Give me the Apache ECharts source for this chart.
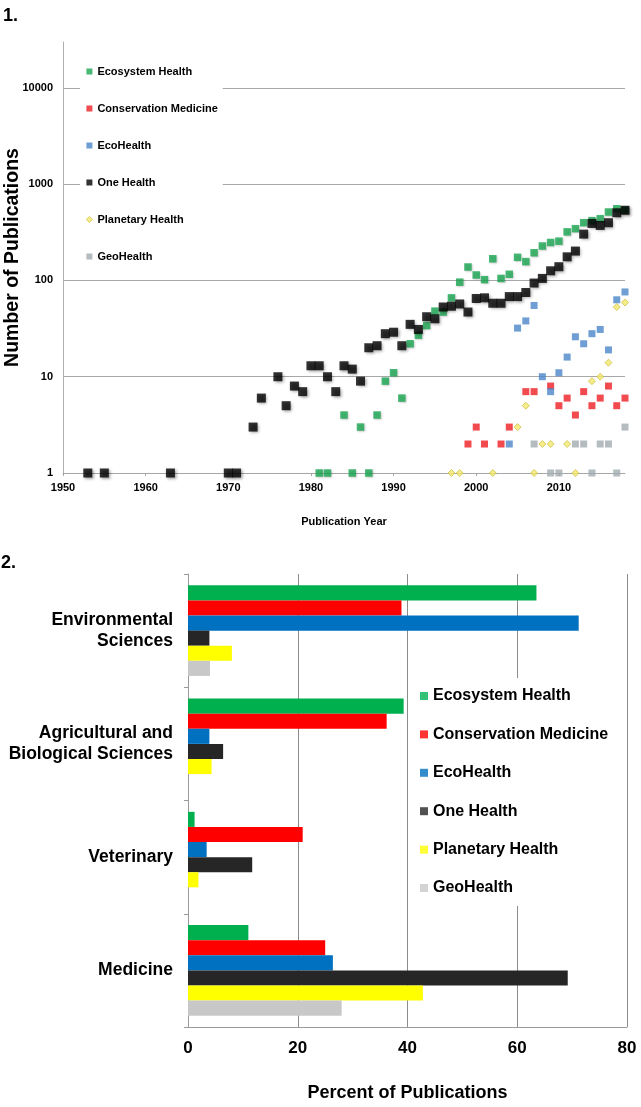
<!DOCTYPE html>
<html>
<head>
<meta charset="utf-8">
<title>Publications</title>
<script src="https://cdn.jsdelivr.net/npm/echarts@6/dist/echarts.min.js"></script>
<style>
  html, body { margin: 0; padding: 0; background: #fff; }
  #main { width: 641px; height: 1107px; }
</style>
</head>
<body>
<div id="main"></div>
<script>
// ---- panel 1: publications per year (log scale) ----
var seriesNames = ['Ecosystem Health', 'Conservation Medicine', 'EcoHealth', 'One Health', 'Planetary Health', 'GeoHealth'];

var ecosystemYears = [1981, 1982, 1984, 1985, 1986, 1987, 1988, 1989, 1990, 1991, 1992, 1993, 1994, 1995, 1996, 1997, 1998, 1999, 2000, 2001, 2002, 2003, 2004, 2005, 2006, 2007, 2008, 2009, 2010, 2011, 2012, 2013, 2014, 2015, 2016, 2017, 2018];
var ecosystemCounts = [1, 1, 4, 1, 3, 1, 4, 9, 11, 6, 22, 27, 34, 48, 47, 66, 96, 138, 114, 102, 168, 105, 116, 174, 157, 194, 228, 248, 256, 320, 345, 398, 418, 438, 514, 556, 540];

var consMedYears = [1999, 2000, 2001, 2003, 2004, 2006, 2007, 2009, 2010, 2011, 2012, 2013, 2014, 2015, 2016, 2017, 2018];
var consMedCounts = [2, 3, 2, 2, 3, 7, 7, 8, 5, 6, 4, 7, 5, 6, 8, 5, 6];

var ecoHealthYears = [2004, 2005, 2006, 2007, 2008, 2009, 2010, 2011, 2012, 2013, 2014, 2015, 2016, 2017, 2018];
var ecoHealthCounts = [2, 32, 38, 55, 10, 7, 11, 16, 26, 22, 28, 31, 19, 63, 76];

var oneHealthYears = [1953, 1955, 1963, 1970, 1971, 1973, 1974, 1976, 1977, 1978, 1979, 1980, 1981, 1982, 1983, 1984, 1985, 1986, 1987, 1988, 1989, 1990, 1991, 1992, 1993, 1994, 1995, 1996, 1997, 1998, 1999, 2000, 2001, 2002, 2003, 2004, 2005, 2006, 2007, 2008, 2009, 2010, 2011, 2012, 2013, 2014, 2015, 2016, 2017, 2018];
var oneHealthCounts = [1, 1, 1, 1, 1, 3, 6, 10, 5, 8, 7, 13, 13, 10, 7, 13, 12, 9, 20, 21, 28, 29, 21, 35, 31, 42, 40, 53, 54, 57, 47, 65, 66, 58, 58, 68, 68, 75, 94, 105, 126, 139, 176, 202, 303, 391, 373, 398, 505, 536];

var planetaryYears = [1997, 1998, 2002, 2005, 2006, 2007, 2008, 2009, 2011, 2012, 2014, 2015, 2016, 2017, 2018];
var planetaryCounts = [1, 1, 1, 3, 5, 1, 2, 2, 2, 1, 9, 10, 14, 53, 59];

var geoHealthYears = [2007, 2009, 2010, 2012, 2013, 2014, 2015, 2016, 2017, 2018];
var geoHealthCounts = [2, 1, 1, 2, 2, 1, 2, 2, 1, 3];

// ---- panel 2: percent of publications by subject area ----
var subjectAreas = ['Environmental\nSciences', 'Agricultural and\nBiological Sciences', 'Veterinary', 'Medicine'];
var ecosystemPct = [63.5, 39.3, 1.2, 11.0];
var consMedPct = [38.9, 36.2, 20.9, 25.0];
var ecoHealthPct = [71.2, 3.9, 3.4, 26.4];
var oneHealthPct = [3.9, 6.4, 11.7, 69.2];
var planetaryPct = [8.0, 4.3, 1.9, 42.8];
var geoHealthPct = [4.0, 0, 0, 28.0];

var FONT = 'Liberation Sans, Arial, sans-serif';

// colours
var dotColors = ['#1aa653', '#ee1d23', '#4a86c8', '#000000', '#f3e86b', '#a2abb0'];
var barColors = ['#00b04f', '#ff0000', '#0070c0', '#262626', '#ffff00', '#c8c8c8'];

function pairs(xs, ys) {
  return xs.map(function (x, i) { return [x, ys[i]]; });
}
// plain numbers, no thousands separator
function plain(v) { return String(v); }

var dotData = [
  pairs(ecosystemYears, ecosystemCounts),
  pairs(consMedYears, consMedCounts),
  pairs(ecoHealthYears, ecoHealthCounts),
  pairs(oneHealthYears, oneHealthCounts),
  pairs(planetaryYears, planetaryCounts),
  pairs(geoHealthYears, geoHealthCounts)
];
var barData = [ecosystemPct, consMedPct, ecoHealthPct, oneHealthPct, planetaryPct, geoHealthPct];

var series = [];

// scatter marks
seriesNames.forEach(function (name, i) {
  var style = { color: dotColors[i] };
  var size = 7;
  var symbol = 'rect';
  if (name === 'One Health') {
    size = 9;
    style.shadowColor = 'rgba(0,0,0,0.45)';
    style.shadowBlur = 3;
    style.shadowOffsetX = 1.5;
    style.shadowOffsetY = 1.5;
  } else if (name === 'Ecosystem Health') {
    size = 7.5;
    style.shadowColor = 'rgba(0,0,0,0.25)';
    style.shadowBlur = 2;
    style.shadowOffsetX = 1;
    style.shadowOffsetY = 1;
  } else if (name === 'Planetary Health') {
    symbol = 'diamond';
    style.borderColor = '#c7b32a';
    style.borderWidth = 0.8;
  }
  series.push({
    name: name,
    type: 'scatter',
    xAxisIndex: 0,
    yAxisIndex: 0,
    symbol: symbol,
    symbolSize: size,
    itemStyle: style,
    data: dotData[i]
  });
});

// bars
seriesNames.forEach(function (name, i) {
  series.push({
    name: name,
    type: 'bar',
    xAxisIndex: 1,
    yAxisIndex: 1,
    barGap: '0%',
    barCategoryGap: '20%',
    itemStyle: { color: barColors[i] },
    data: barData[i]
  });
});

var topLegendData = seriesNames.map(function (name, i) {
  var item = { name: name, icon: 'rect', itemStyle: { color: dotColors[i], borderWidth: 0 } };
  if (name === 'Planetary Health') {
    item.icon = 'diamond';
    item.itemStyle.borderColor = '#c7b32a';
    item.itemStyle.borderWidth = 0.8;
  }
  return item;
});
var bottomLegendData = seriesNames.map(function (name, i) {
  return { name: name, icon: 'rect', itemStyle: { color: barColors[i], borderWidth: 0 } };
});

var option = {
  animation: false,
  backgroundColor: '#fff',
  textStyle: { fontFamily: FONT },
  title: [
    { text: '1.', left: 0, top: 2, padding: [5, 5, 5, 3],
      textStyle: { fontSize: 18, fontWeight: 'bold', color: '#000', fontFamily: FONT } },
    { text: '2.', left: 0, top: 549, padding: [5, 5, 5, 1],
      textStyle: { fontSize: 18, fontWeight: 'bold', color: '#000', fontFamily: FONT } }
  ],
  legend: [
    {
      orient: 'vertical',
      left: 80,
      top: 58,
      padding: [8, 5, 8, 6],
      backgroundColor: '#fff',
      itemWidth: 6,
      itemHeight: 6,
      itemGap: 26,
      data: topLegendData,
      textStyle: { fontSize: 11, fontWeight: 'bold', color: '#000', fontFamily: FONT, lineHeight: 11 }
    },
    {
      orient: 'vertical',
      left: 410,
      top: 678,
      padding: [10, 6, 10, 10],
      backgroundColor: '#fff',
      itemWidth: 8,
      itemHeight: 8,
      itemGap: 22.4,
      data: bottomLegendData,
      textStyle: { fontSize: 16, fontWeight: 'bold', color: '#000', fontFamily: FONT, lineHeight: 16 }
    }
  ],
  grid: [
    { left: 63, right: 16, top: 42, bottom: 634, outerBoundsMode: 'none', containLabel: false },
    { left: 188, right: 14, top: 574, bottom: 80, outerBoundsMode: 'none', containLabel: false }
  ],
  xAxis: [
    {
      gridIndex: 0,
      type: 'value',
      min: 1950,
      max: 2018,
      interval: 10,
      name: 'Publication Year',
      nameLocation: 'middle',
      nameGap: 43,
      nameMoveOverlap: false,
      nameTextStyle: { fontSize: 11, fontWeight: 'bold', color: '#000', fontFamily: FONT },
      axisLine: { onZero: false, lineStyle: { color: '#a6a6a6', width: 1 } },
      axisTick: { show: true, length: 3, lineStyle: { color: '#a6a6a6' } },
      splitLine: { show: false },
      axisLabel: { fontSize: 11, fontWeight: 'bold', color: '#000', margin: 9, showMaxLabel: false, fontFamily: FONT, formatter: plain }
    },
    {
      gridIndex: 1,
      type: 'value',
      min: 0,
      max: 80,
      interval: 20,
      name: 'Percent of Publications',
      nameLocation: 'middle',
      nameGap: 57,
      nameMoveOverlap: false,
      nameTextStyle: { fontSize: 18, fontWeight: 'bold', color: '#000', fontFamily: FONT },
      axisLine: { show: true, onZero: false, lineStyle: { color: '#9a9a9a', width: 1 } },
      axisTick: { show: false },
      splitLine: { show: true, lineStyle: { color: '#8c8c8c', width: 1 } },
      axisLabel: { fontSize: 17, fontWeight: 'bold', color: '#000', margin: 13, fontFamily: FONT }
    }
  ],
  yAxis: [
    {
      gridIndex: 0,
      type: 'log',
      logBase: 10,
      min: 1,
      max: 30000,
      name: 'Number of Publications',
      nameLocation: 'middle',
      nameGap: 40,
      nameMoveOverlap: false,
      nameTextStyle: { fontSize: 19.5, fontWeight: 'bold', color: '#000', fontFamily: FONT },
      axisLine: { show: true, lineStyle: { color: '#b0b0b0', width: 1 } },
      axisTick: { show: false },
      splitLine: { show: true, showMaxLine: false, lineStyle: { color: '#a8a8a8', width: 1 } },
      axisLabel: { fontSize: 11, fontWeight: 'bold', color: '#000', margin: 10, showMaxLabel: false, fontFamily: FONT, formatter: plain }
    },
    {
      gridIndex: 1,
      type: 'category',
      inverse: true,
      data: subjectAreas,
      axisLine: { show: true, lineStyle: { color: '#9a9a9a', width: 1 } },
      axisTick: { show: true, length: 4, lineStyle: { color: '#9a9a9a' } },
      splitLine: { show: false },
      axisLabel: { fontSize: 17.5, fontWeight: 'bold', color: '#000', margin: 15, lineHeight: 21, align: 'right', fontFamily: FONT }
    }
  ],
  series: series
};

var myChart = echarts.init(document.getElementById('main'), null, { renderer: 'canvas' });
myChart.setOption(option);
</script>
</body>
</html>
